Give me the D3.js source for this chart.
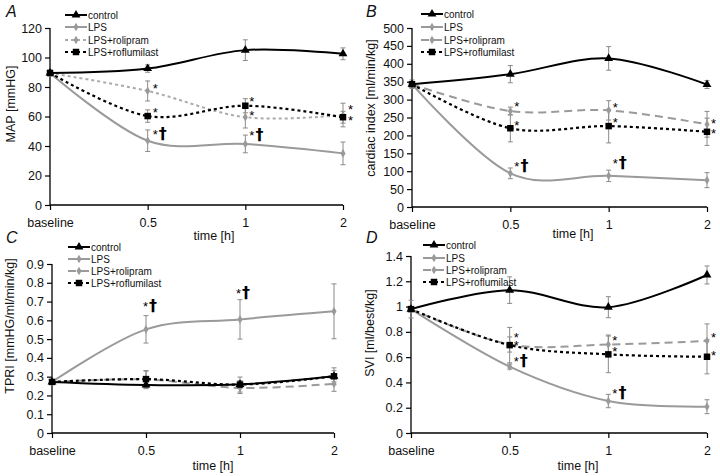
<!DOCTYPE html>
<html><head><meta charset="utf-8">
<script src="https://cdn.jsdelivr.net/npm/d3@7/dist/d3.min.js"></script>
<style>
body{margin:0;background:#fff;}
text{font-family:"Liberation Sans",Arial,sans-serif;}
</style></head><body>
<svg id="chart" width="720" height="476"></svg>
<script>
// ---------- data ----------
const categories = ["baseline", "0.5", "1", "2"];
const seriesNames = ["control", "LPS", "LPS+rolipram", "LPS+roflumilast"];

// Panel A: MAP [mmHG]
const mapControl = [89.5, 92.5, 105, 102.5];
const mapControlErr = [2, 2.5, 7, 4];
const mapLPS = [89.5, 43.6, 41.4, 35];
const mapLPSErr = [0, 7.3, 6, 7.7];
const mapRolipram = [89.5, 77.3, 59.5, 61];
const mapRolipramErr = [0, 6.8, 7.3, 8];
const mapRoflumilast = [89.5, 60.3, 67.3, 59.5];
const mapRoflumilastErr = [0, 4.2, 4.8, 4];
const mapTicks = [0, 20, 40, 60, 80, 100, 120];
const mapAnnot = [["0.5", 76, "*"], ["0.5", 60, "*"], ["0.5", 44.5, "*†"],
                  ["1", 67, "*"], ["1", 57.4, "*"], ["1", 44, "*†"],
                  ["2", 61.5, "*"], ["2", 54.5, "*"]];

// Panel B: cardiac index [ml/min/kg]
const ciControl = [343, 371, 415, 342];
const ciControlErr = [12, 24, 33, 11];
const ciLPS = [343, 94, 87, 75];
const ciLPSErr = [0, 15, 16, 21];
const ciRolipram = [343, 268, 270, 231];
const ciRolipramErr = [0, 11, 27, 36];
const ciRoflumilast = [343, 220, 226, 210];
const ciRoflumilastErr = [0, 38, 47, 38];
const ciTicks = [0, 50, 100, 150, 200, 250, 300, 350, 400, 450, 500];
const ciAnnot = [["0.5", 268, "*"], ["0.5", 214, "*"], ["0.5", 101, "*†"],
                 ["1", 265, "*"], ["1", 223, "*"], ["1", 108, "*†"],
                 ["2", 222, "*"], ["2", 192, "*"]];

// Panel C: TPRI [mmHG/ml/min/kg]
const tpriControl = [0.272, 0.256, 0.259, 0.302];
const tpriControlErr = [0.01, 0.02, 0.02, 0.03];
const tpriLPS = [0.272, 0.552, 0.605, 0.648];
const tpriLPSErr = [0, 0.073, 0.105, 0.146];
const tpriRolipram = [0.272, 0.285, 0.24, 0.262];
const tpriRolipramErr = [0, 0.045, 0.03, 0.04];
const tpriRoflumilast = [0.272, 0.287, 0.258, 0.302];
const tpriRoflumilastErr = [0, 0.045, 0.04, 0.045];
const tpriTicks = [0, 0.1, 0.2, 0.3, 0.4, 0.5, 0.6, 0.7, 0.8, 0.9];
const tpriAnnot = [["0.5", 0.65, "*†"], ["1", 0.72, "*†"]];

// Panel D: SVI [ml/best/kg]
const sviControl = [0.98, 1.13, 0.995, 1.25];
const sviControlErr = [0.07, 0.105, 0.083, 0.071];
const sviLPS = [0.98, 0.525, 0.253, 0.208];
const sviLPSErr = [0, 0.02, 0.053, 0.055];
const sviRolipram = [0.98, 0.70, 0.70, 0.728];
const sviRolipramErr = [0, 0.06, 0.075, 0.135];
const sviRoflumilast = [0.98, 0.695, 0.622, 0.603];
const sviRoflumilastErr = [0, 0.14, 0.145, 0.135];
const sviTicks = [0, 0.2, 0.4, 0.6, 0.8, 1, 1.2, 1.4];
const sviAnnot = [["0.5", 0.72, "*"], ["0.5", 0.66, "*"], ["0.5", 0.53, "*†"],
                  ["1", 0.70, "*"], ["1", 0.607, "*"], ["1", 0.28, "*†"],
                  ["2", 0.717, "*"], ["2", 0.58, "*"]];

// ---------- layout / style ----------
const GRAY = "#9a9a9a";
const panels = [
  {letter: "A", lx: 6, ly: 17, x0: 50, x1: 343, yTop: 28, yBot: 205, max: 120, ticks: mapTicks,
   ylabel: "MAP [mmHG]", ylx: 11, yly: 104, tx: 214, ty: 240, legX: 65, legY: [15, 27, 40, 52],
   roliDash: "3,3", roliColor: "#aaaaaa",
   vals: [mapControl, mapLPS, mapRolipram, mapRoflumilast],
   errs: [mapControlErr, mapLPSErr, mapRolipramErr, mapRoflumilastErr],
   annot: mapAnnot, adx: {"0.5": 5, "1": 4, "2": 5}},
  {letter: "B", lx: 366, ly: 17, x0: 412, x1: 707, yTop: 28, yBot: 207, max: 500, ticks: ciTicks,
   ylabel: "cardiac index [ml/min/kg]", ylx: 371, yly: 108, tx: 573, ty: 238, legX: 421, legY: [14, 27, 40, 52],
   roliDash: "8,5", roliColor: GRAY,
   vals: [ciControl, ciLPS, ciRolipram, ciRoflumilast],
   errs: [ciControlErr, ciLPSErr, ciRolipramErr, ciRoflumilastErr],
   annot: ciAnnot, adx: {"0.5": 4, "1": 4, "2": 4}},
  {letter: "C", lx: 6, ly: 243, x0: 52, x1: 334, yTop: 264, yBot: 433, max: 0.9, ticks: tpriTicks,
   ylabel: "TPRI [mmHG/ml/min/kg]", ylx: 10, yly: 326, tx: 213, ty: 470, legX: 68, legY: [247, 259, 271, 283],
   roliDash: "8,5", roliColor: GRAY,
   vals: [tpriControl, tpriLPS, tpriRolipram, tpriRoflumilast],
   errs: [tpriControlErr, tpriLPSErr, tpriRolipramErr, tpriRoflumilastErr],
   annot: tpriAnnot, adx: {"0.5": -3, "1": -4, "2": 0}},
  {letter: "D", lx: 366, ly: 243, x0: 411, x1: 707, yTop: 256, yBot: 433, max: 1.4, ticks: sviTicks,
   ylabel: "SVI [ml/best/kg]", ylx: 370, yly: 333, tx: 578, ty: 470, legX: 423, legY: [245, 258, 270, 282],
   roliDash: "8,5", roliColor: GRAY,
   vals: [sviControl, sviLPS, sviRolipram, sviRoflumilast],
   errs: [sviControlErr, sviLPSErr, sviRolipramErr, sviRoflumilastErr],
   annot: sviAnnot, adx: {"0.5": 4, "1": 4, "2": 4}}
];

const svg = d3.select("#chart");
const triangle = d3.symbol().type(d3.symbolTriangle).size(34);
const diamond = d3.symbol().type(d3.symbolDiamond).size(22);
const square = d3.symbol().type(d3.symbolSquare).size(42);

function styles(p) {
  return [
    {stroke: "#000", width: 2, dash: null, marker: triangle, fill: "#000"},
    {stroke: GRAY, width: 2, dash: null, marker: diamond, fill: GRAY},
    {stroke: p.roliColor, width: 2, dash: p.roliDash, marker: diamond, fill: GRAY},
    {stroke: "#000", width: 2.2, dash: "3,3", marker: square, fill: "#000"}
  ];
}

panels.forEach(p => {
  const g = svg.append("g");
  const x = d3.scalePoint().domain(categories).range([p.x0, p.x1]);
  const y = d3.scaleLinear().domain([0, p.max]).range([p.yBot, p.yTop]);
  const st = styles(p);

  // axes
  const ya = d3.axisLeft(y).tickValues(p.ticks).tickSize(5).tickPadding(3)
    .tickFormat(d => String(+d.toFixed(2)));
  const yg = g.append("g").attr("transform", `translate(${p.x0},0)`).call(ya);
  const xa = d3.axisBottom(x).tickSize(5).tickPadding(8);
  const xg = g.append("g").attr("transform", `translate(0,${p.yBot})`).call(xa);
  [yg, xg].forEach(a => {
    a.select(".domain").attr("stroke", "#000").attr("stroke-width", 1.3)
      .attr("d", a === yg ? `M0,${p.yBot}V${p.yTop}` : `M${p.x0},0H${p.x1}`);
    a.selectAll(".tick line").attr("stroke", "#000").attr("stroke-width", 1.2);
    a.selectAll(".tick text").attr("font-size", 12.5).attr("fill", "#111")
      .attr("font-family", "Liberation Sans, Arial, sans-serif");
  });

  // titles
  g.append("text").attr("x", p.lx).attr("y", p.ly).text(p.letter)
    .attr("font-size", 16).attr("font-style", "italic").attr("fill", "#111");
  g.append("text").attr("transform", `translate(${p.ylx},${p.yly}) rotate(-90)`)
    .attr("text-anchor", "middle").attr("dominant-baseline", "central")
    .attr("font-size", 12.5).attr("fill", "#111").text(p.ylabel);
  g.append("text").attr("x", p.tx).attr("y", p.ty).attr("text-anchor", "middle")
    .attr("font-size", 12.5).attr("fill", "#111").text("time [h]");

  // error bars
  p.vals.forEach((vals, si) => {
    const errs = p.errs[si];
    categories.forEach((c, i) => {
      if (!errs[i]) return;
      const cx = x(c), lo = y(vals[i] - errs[i]), hi = y(vals[i] + errs[i]);
      g.append("path").attr("d", `M${cx},${lo}V${hi}M${cx - 2.5},${lo}H${cx + 2.5}M${cx - 2.5},${hi}H${cx + 2.5}`)
        .attr("stroke", "#8a8a8a").attr("stroke-width", 1).attr("fill", "none");
    });
  });

  // lines
  const line = d3.line().x((d, i) => x(categories[i])).y(d => y(d)).curve(d3.curveCardinal.tension(0));
  [1, 2, 3, 0].forEach(si => {
    const s = st[si];
    g.append("path").datum(p.vals[si]).attr("d", line).attr("fill", "none")
      .attr("stroke", s.stroke).attr("stroke-width", s.width)
      .attr("stroke-dasharray", s.dash);
  });

  // markers
  [1, 2, 0, 3].forEach(si => {
    const s = st[si];
    g.selectAll(null).data(p.vals[si]).enter().append("path")
      .attr("d", s.marker)
      .attr("transform", (d, i) => `translate(${x(categories[i])},${y(d)})`)
      .attr("fill", s.fill);
  });

  // annotations (asterisk + optional dagger)
  p.annot.forEach(a => {
    const t = g.append("text").attr("x", x(a[0]) + p.adx[a[0]]).attr("y", y(a[1]))
      .attr("font-size", 13).attr("fill", "#000");
    t.append("tspan").text("*");
    if (a[2].length > 1) {
      t.append("tspan").text(a[2].slice(1)).attr("font-size", 16)
        .attr("font-family", "DejaVu Sans, sans-serif").attr("font-weight", "bold")
        .attr("dx", 1);
    }
  });

  // legend
  seriesNames.forEach((name, si) => {
    const s = st[si], ly = p.legY[si];
    g.append("line").attr("x1", p.legX).attr("x2", p.legX + 22).attr("y1", ly).attr("y2", ly)
      .attr("stroke", s.stroke).attr("stroke-width", s.width).attr("stroke-dasharray", s.dash);
    g.append("path").attr("d", s.marker).attr("transform", `translate(${p.legX + 11},${ly})`).attr("fill", s.fill);
    g.append("text").attr("x", p.legX + 23).attr("y", ly).attr("dominant-baseline", "central")
      .attr("font-size", 10).attr("fill", "#111").text(name);
  });
});
</script>
</body></html>
